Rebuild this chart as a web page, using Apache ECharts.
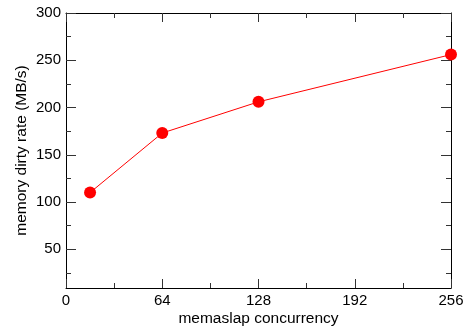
<!DOCTYPE html>
<html><head><meta charset="utf-8">
<script src="https://cdn.jsdelivr.net/npm/echarts@6/dist/echarts.min.js"></script>
<style>html,body{margin:0;padding:0;background:#fff}#c{width:468px;height:329px}</style>
</head><body><div id="c"></div>
<script>
var concurrency = [16, 64, 128, 256];
var dirtyRate = [110, 173, 206, 256];
var xTickValues = [0, 64, 128, 192, 256];
var yTickValues = [50, 100, 150, 200, 250, 300];
var yMinorTickValues = [25, 75, 125, 175, 225, 275];
var xName = 'memaslap concurrency';
var yName = 'memory dirty rate (MB/s)';

var font = 'Liberation Sans, Arial, sans-serif';
var chart = echarts.init(document.getElementById('c'), null, {renderer: 'canvas'});
var yMin = 9, yMax = 300;
var lineStyle = {color: '#000', width: 1};
var tickStyle = {color: '#333', width: 1};
chart.setOption({
  animation: false,
  grid: {left: 66, right: 17, top: 13, bottom: 41, outerBoundsMode: 'none'},
  xAxis: [{
    type: 'value', min: 0, max: 256, interval: 64,
    name: xName, nameLocation: 'middle', nameGap: 23, nameMoveOverlap: false,
    nameTextStyle: {fontFamily: font, fontSize: 15.5, color: '#000'},
    axisLine: {show: true, lineStyle: lineStyle},
    axisTick: {show: true, inside: true, length: 9, lineStyle: tickStyle},
    minorTick: {show: true, splitNumber: 2, length: 5, lineStyle: tickStyle},
    axisLabel: {fontFamily: font, fontSize: 15, color: '#000', margin: 5,
      customValues: xTickValues},
    splitLine: {show: false}
  }, {
    type: 'value', min: 0, max: 256, interval: 64, position: 'top',
    axisLine: {show: true, lineStyle: lineStyle},
    axisTick: {show: true, inside: true, length: 9, lineStyle: tickStyle},
    minorTick: {show: true, splitNumber: 2, length: 5, lineStyle: tickStyle},
    axisLabel: {show: false}, splitLine: {show: false}
  }],
  yAxis: [{
    type: 'value', min: yMin, max: yMax, position: 'left',
    name: yName, nameLocation: 'middle', nameGap: 36, nameMoveOverlap: false,
    nameTextStyle: {fontFamily: font, fontSize: 15.5, color: '#000'},
    axisLine: {show: true, lineStyle: lineStyle},
    axisTick: {show: true, inside: true, length: 10, lineStyle: tickStyle, customValues: yTickValues},
    axisLabel: {fontFamily: font, fontSize: 15, color: '#000', margin: 5, customValues: yTickValues},
    splitLine: {show: false}
  }, {
    type: 'value', min: yMin, max: yMax, position: 'left',
    axisLine: {show: false},
    axisTick: {show: true, inside: true, length: 5, lineStyle: tickStyle, customValues: yMinorTickValues},
    axisLabel: {show: false}, splitLine: {show: false}
  }, {
    type: 'value', min: yMin, max: yMax, position: 'right',
    axisLine: {show: true, lineStyle: lineStyle},
    axisTick: {show: true, inside: true, length: 10, lineStyle: tickStyle, customValues: yTickValues},
    axisLabel: {show: false}, splitLine: {show: false}
  }, {
    type: 'value', min: yMin, max: yMax, position: 'right',
    axisLine: {show: false},
    axisTick: {show: true, inside: true, length: 5, lineStyle: tickStyle, customValues: yMinorTickValues},
    axisLabel: {show: false}, splitLine: {show: false}
  }],
  series: [{
    type: 'line',
    data: concurrency.map(function (c, i) { return [c, dirtyRate[i]]; }),
    xAxisIndex: 0, yAxisIndex: 0,
    clip: false,
    symbol: 'circle', symbolSize: 12,
    itemStyle: {color: '#ff0000'},
    lineStyle: {color: '#ff0000', width: 1}
  }]
});
</script></body></html>
